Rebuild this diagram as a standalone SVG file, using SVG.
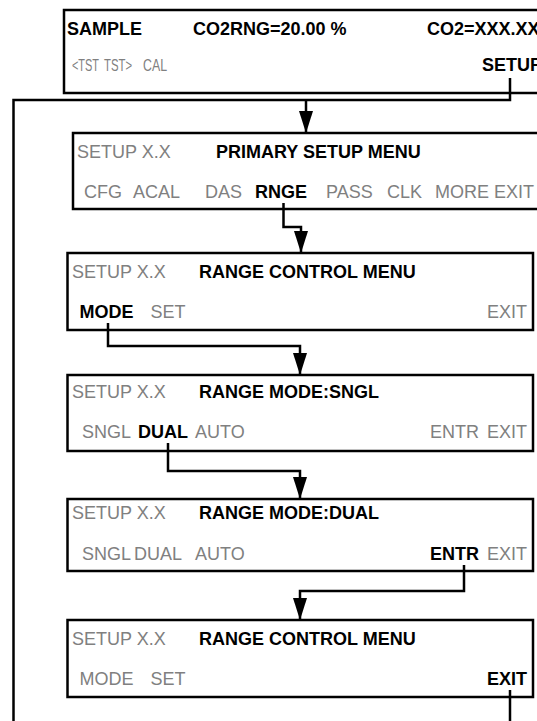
<svg xmlns="http://www.w3.org/2000/svg" width="537" height="721" viewBox="0 0 537 721">
<style>
.box{fill:#fff;stroke:#000;stroke-width:2.5}
text{font-family:"Liberation Sans",Arial,sans-serif;font-size:18px}
.b{font-weight:bold;fill:#000}
.g{fill:#808080}
.e{text-anchor:end}
.n{font-size:16.5px}
.c{fill:none;stroke:#000;stroke-width:2.5}
</style>
<defs>
<marker id="ah" markerUnits="userSpaceOnUse" viewBox="0 0 22 14" refX="22" refY="7" markerWidth="22" markerHeight="14" orient="auto">
<path d="M0,0 L22,7 L0,14 z" fill="#000"/>
</marker>
</defs>
<rect width="537" height="721" fill="#fff"/>
<g id="n-sample">
<rect class="box" x="64" y="10" width="520" height="83"/>
<text class="b" x="67" y="35">SAMPLE</text>
<text class="b" x="193" y="35">CO2RNG=20.00 %</text>
<text class="b" x="427" y="35">CO2=XXX.XX</text>
<text class="g n" x="72" y="71" textLength="27" lengthAdjust="spacingAndGlyphs">&lt;TST</text>
<text class="g n" x="104" y="71" textLength="28" lengthAdjust="spacingAndGlyphs">TST&gt;</text>
<text class="g n" x="143" y="71" textLength="24" lengthAdjust="spacingAndGlyphs">CAL</text>
<text class="b" x="482" y="71">SETUP</text>
</g>
<g id="n-primary">
<rect class="box" x="73" y="133" width="520" height="76"/>
<text class="g" x="77" y="158">SETUP X.X</text>
<text class="b" x="216" y="158">PRIMARY SETUP MENU</text>
<text class="g" x="84" y="198">CFG</text>
<text class="g" x="133" y="198">ACAL</text>
<text class="g" x="205" y="198">DAS</text>
<text class="b" x="255" y="198">RNGE</text>
<text class="g" x="326" y="198">PASS</text>
<text class="g" x="387" y="198">CLK</text>
<text class="g" x="435" y="198">MORE</text>
<text class="g" x="494" y="198">EXIT</text>
</g>
<g id="n-range1">
<rect class="box" x="67.5" y="253" width="465.5" height="77"/>
<text class="g" x="72" y="278">SETUP X.X</text>
<text class="b" x="199" y="278">RANGE CONTROL MENU</text>
<text class="b" x="79.5" y="318">MODE</text>
<text class="g" x="150.5" y="318">SET</text>
<text class="g e" x="527" y="318">EXIT</text>
</g>
<g id="n-sngl">
<rect class="box" x="67.5" y="375" width="465.5" height="76"/>
<text class="g" x="72" y="398">SETUP X.X</text>
<text class="b" x="199" y="398">RANGE MODE:SNGL</text>
<text class="g" x="82" y="438">SNGL</text>
<text class="b" x="138" y="438">DUAL</text>
<text class="g" x="195" y="438">AUTO</text>
<text class="g" x="430" y="438">ENTR</text>
<text class="g e" x="527" y="438">EXIT</text>
</g>
<g id="n-dual">
<rect class="box" x="67.5" y="499" width="465.5" height="72"/>
<text class="g" x="72" y="519">SETUP X.X</text>
<text class="b" x="199" y="519">RANGE MODE:DUAL</text>
<text class="g" x="82" y="560">SNGL</text>
<text class="g" x="134" y="560">DUAL</text>
<text class="g" x="195" y="560">AUTO</text>
<text class="b" x="430" y="560">ENTR</text>
<text class="g e" x="527" y="560">EXIT</text>
</g>
<g id="n-range2">
<rect class="box" x="67.5" y="620" width="465.5" height="77"/>
<text class="g" x="72" y="645">SETUP X.X</text>
<text class="b" x="199" y="645">RANGE CONTROL MENU</text>
<text class="g" x="79.5" y="685">MODE</text>
<text class="g" x="150.5" y="685">SET</text>
<text class="b e" x="527" y="685">EXIT</text>
</g>
<g id="connectors">
<path class="c" d="M510,78 V100 H13.5 V721"/>
<path class="c" d="M306,100 V133" marker-end="url(#ah)"/>
<path class="c" d="M283.5,203 V227 H301 V253" marker-end="url(#ah)"/>
<path class="c" d="M108,323 V346 H300 V375" marker-end="url(#ah)"/>
<path class="c" d="M168,443 V471 H300 V499" marker-end="url(#ah)"/>
<path class="c" d="M464,565 V591 H300 V620" marker-end="url(#ah)"/>
<path class="c" d="M510,690 V721"/>
</g>
</svg>
